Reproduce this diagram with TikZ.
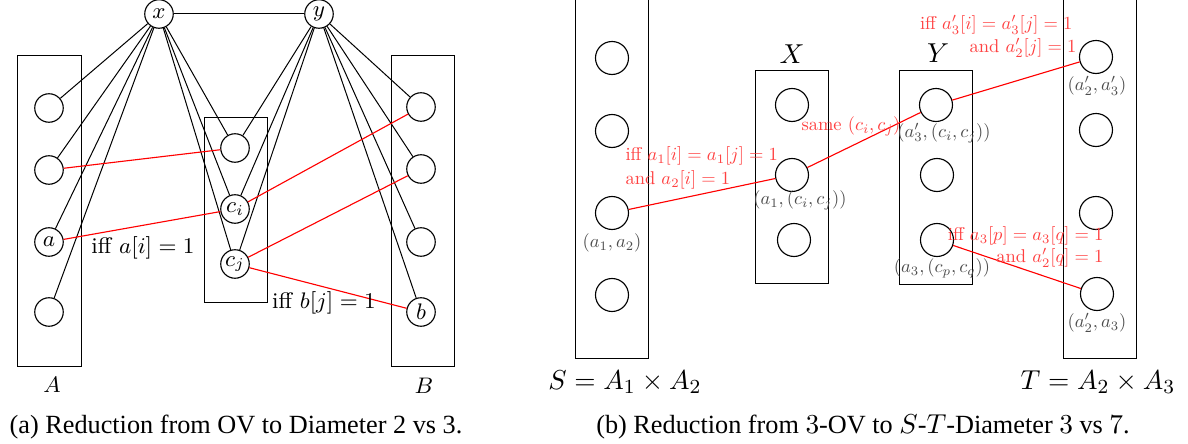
\documentclass[tikz,border=0pt]{standalone}
\usepackage{fontspec}
\usepackage{graphicx}
\newfontfamily\capfont{Liberation Serif}
\newcommand{\smtx}[1]{\scalebox{0.74}{#1}}
\begin{document}
\begin{tikzpicture}[x=0.4pt,y=-0.4pt,
  v/.style={circle,draw,line width=0.45pt,inner sep=0pt,minimum size=11.4pt,font=\fontsize{9}{10}\selectfont},
  w/.style={circle,draw,line width=0.45pt,inner sep=0pt,minimum size=13.2pt},
  grp/.style={draw,line width=0.4pt},
  ln/.style={line width=0.4pt},
  rl/.style={red,line width=0.45pt},
  rt/.style={text=red!75,font=\fontsize{10}{12}\selectfont,inner sep=0pt},
  gl/.style={text=black!70,font=\fontsize{10}{12}\selectfont,inner sep=0pt},
  lbl/.style={font=\fontsize{9}{10}\selectfont,inner sep=0pt},
  big/.style={font=\fontsize{10.5}{12}\selectfont,inner sep=0pt},
  captxt/.style={font=\capfont\fontsize{10.5}{12}\selectfont,inner sep=0pt}]
\useasboundingbox (0,0) rectangle (1188,444);

% ---------- left panel ----------
\draw[grp] (17,56) rectangle (81,367);
\draw[grp] (204,118) rectangle (267,303);
\draw[grp] (391,56) rectangle (454,367);

\node[v] (x) at (159,14) {$x$};
\node[v] (y) at (319,14) {$y$};
\node[v] (A1) at (49,108) {};
\node[v] (A2) at (49,170) {};
\node[v] (a) at (49,242) {$a$};
\node[v] (A4) at (49,312) {};
\node[v] (C1) at (235,148) {};
\node[v] (ci) at (235,209) {$c_i$};
\node[v] (cj) at (235,264) {$c_j$};
\node[v] (B1) at (421,107) {};
\node[v] (B2) at (421,169) {};
\node[v] (B3) at (421,242) {};
\node[v] (b) at (421,312) {$b$};

\draw[ln] (x) -- (y);
\foreach \t in {A1,A2,a,A4,C1,ci,cj} \draw[ln] (x) -- (\t);
\foreach \t in {C1,ci,cj,B1,B2,B3,b} \draw[ln] (y) -- (\t);
\draw[rl] (A2) -- (C1);
\draw[rl] (a) -- (ci);
\draw[rl] (ci) -- (B1);
\draw[rl] (cj) -- (B2);
\draw[rl] (cj) -- (b);

\node[lbl] (lA) at (52,385) {$A$};
\node[lbl] (lB) at (424,386) {$B$};
\node[lbl] (ia) at (143,248) {iff $a[i]=1$};
\node[lbl] (ib) at (324,303) {iff $b[j]=1$};

\node[captxt] (capa) at (236,427) {(a) Reduction from OV to Diameter 2 vs 3.};

% ---------- right panel ----------
\draw[grp] (575,-5) rectangle (648,359);
\draw[grp] (755,71) rectangle (828,284);
\draw[grp] (899,71) rectangle (972,285);
\draw[grp] (1063,-5) rectangle (1136,359);

\node[w] (S1) at (612,58) {};
\node[w] (S2) at (612,131) {};
\node[w] (S3) at (612,213) {};
\node[w] (S4) at (612,295) {};
\node[w] (X1) at (792,105) {};
\node[w] (X2) at (792,175) {};
\node[w] (X3) at (794,240) {};
\node[w] (Y1) at (936,105) {};
\node[w] (Y2) at (937,175) {};
\node[w] (Y3) at (937,240) {};
\node[w] (T1) at (1096,57) {};
\node[w] (T2) at (1096,130) {};
\node[w] (T3) at (1096,213) {};
\node[w] (T4) at (1097,294) {};

\draw[rl] (S3) -- (X2);
\draw[rl] (X2) -- (Y1);
\draw[rl] (Y1) -- (T1);
\draw[rl] (Y3) -- (T4);

\node[gl] (g1) at (612,243) {\smtx{$(a_1,a_2)$}};
\node[gl] (g2) at (800,200) {\smtx{$(a_1,(c_i,c_j))$}};
\node[gl] (g3) at (944,133) {\smtx{$(a'_3,(c_i,c_j))$}};
\node[gl] (g4) at (942,268) {\smtx{$(a_3,(c_p,c_q))$}};
\node[gl] (g5) at (1097,86) {\smtx{$(a'_2,a'_3)$}};
\node[gl] (g6) at (1097,323) {\smtx{$(a'_2,a_3)$}};

\node[rt,anchor=west] (r1) at (625,156) {\smtx{iff $a_1[i]=a_1[j]=1$}};
\node[rt,anchor=west] (r2) at (625,180) {\smtx{and $a_2[i]=1$}};
\node[rt,anchor=west] (r3) at (801,126) {\smtx{same $(c_i,c_j)$}};
\node[rt,anchor=east] (r4) at (1073,25) {\smtx{iff $a'_3[i]=a'_3[j]=1$}};
\node[rt,anchor=east] (r5) at (1077,48) {\smtx{and $a'_2[j]=1$}};
\node[rt,anchor=east] (r6) at (1104,236) {\smtx{iff $a_3[p]=a_3[q]=1$}};
\node[rt,anchor=east] (r7) at (1104,258) {\smtx{and $a'_2[q]=1$}};

\node[big] (lX) at (792,54) {$X$};
\node[big] (lY) at (938,53) {$Y$};
\node[font=\fontsize{11}{12}\selectfont,inner sep=0pt] (lS) at (625,382) {$S=A_1\times A_2$};
\node[font=\fontsize{11}{12}\selectfont,inner sep=0pt] (lT) at (1098,382) {$T=A_2\times A_3$};

\node[captxt] (capb) at (863,427) {(b) Reduction from $3$-OV to $S$-$T$-Diameter $3$ vs $7$.};
\end{tikzpicture}
\end{document}
